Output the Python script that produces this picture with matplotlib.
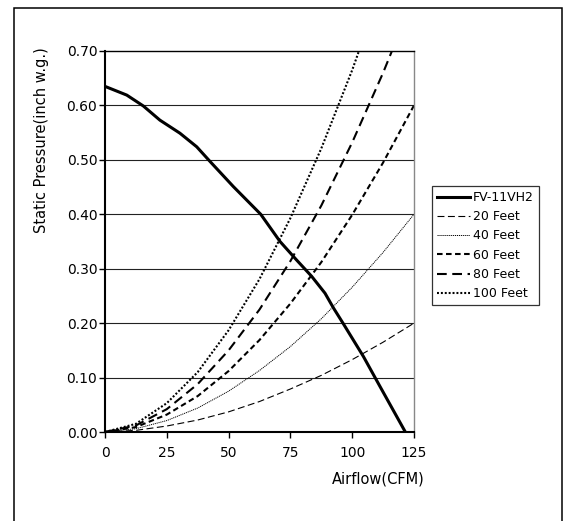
import matplotlib
matplotlib.use("Agg")
import matplotlib.pyplot as plt
from matplotlib.patches import Rectangle

plt.rcParams['font.family'] = ['DejaVu Sans']
plt.rcParams['lines.scale_dashes'] = False

# Fan performance curve
fan_x = [0, 8.8, 15.5, 22.2, 30.3, 37.1, 42.5, 51.9, 63.0, 70.8, 77.5, 83.6,
         89.0, 92.4, 96.4, 104.5, 111.2, 121.5]
fan_y = [0.635, 0.619, 0.599, 0.573, 0.549, 0.524, 0.497, 0.451, 0.400, 0.350,
         0.316, 0.286, 0.255, 0.228, 0.199, 0.139, 0.084, 0.0]

# Duct resistance curves
duct_x = [0, 12.5, 25, 37.5, 50, 62.5, 75, 87.5, 100, 112.5, 125]
feet20 = [0, 0.003, 0.011, 0.022, 0.037, 0.056, 0.079, 0.104, 0.133, 0.165, 0.20]
feet40 = [0, 0.006, 0.021, 0.044, 0.075, 0.113, 0.157, 0.208, 0.266, 0.330, 0.40]
feet60 = [0, 0.009, 0.032, 0.066, 0.112, 0.169, 0.236, 0.312, 0.399, 0.495, 0.60]
feet80 = [0, 0.012, 0.042, 0.088, 0.150, 0.225, 0.314, 0.416, 0.532, 0.660, 0.80]
feet100 = [0, 0.015, 0.053, 0.110, 0.187, 0.281, 0.393, 0.521, 0.665, 0.825, 1.0]

labels = ['FV-11VH2', '20 Feet', '40 Feet', '60 Feet', '80 Feet', '100 Feet']
x_ticks = [0, 25, 50, 75, 100, 125]
y_ticks = [0.0, 0.1, 0.2, 0.3, 0.4, 0.5, 0.6, 0.7]

W, H = 572, 521
fig = plt.figure(figsize=(W / 100, H / 100), dpi=100)
ax = fig.add_axes([105 / W, 1 - 432 / H, 309 / W, 381 / H])

# frame around the figure
fig.patches.append(Rectangle((13.5 / W, -0.05), 548 / W, 1.05 - 7.5 / H,
                             transform=fig.transFigure, fill=False,
                             edgecolor='black', linewidth=1.1))

for yv in y_ticks[1:-1]:
    ax.axhline(yv, color='#222222', linewidth=0.8, zorder=1)

ax.plot(fan_x, fan_y, color='black', linewidth=2.2, solid_joinstyle='round',
        label=labels[0], zorder=5)
ax.plot(duct_x, feet20, color='black', linewidth=0.8, dashes=(5, 2.5), label=labels[1])
ax.plot(duct_x, feet40, color='black', linewidth=0.7, dashes=(0.8, 0.6), label=labels[2])
ax.plot(duct_x, feet60, color='black', linewidth=1.5, dashes=(4, 2.5), label=labels[3])
ax.plot(duct_x, feet80, color='black', linewidth=1.5, dashes=(7, 4), label=labels[4])
ax.plot(duct_x, feet100, color='black', linewidth=1.5, dashes=(1.4, 1.4), label=labels[5])

ax.set_xlim(0, 125)
ax.set_ylim(0, 0.70)
ax.set_xticks(x_ticks)
ax.set_xticklabels([str(v) for v in x_ticks])
ax.set_yticks(y_ticks)
ax.set_yticklabels(['%.2f' % v for v in y_ticks])
ax.tick_params(axis='y', direction='out', length=4, width=1, pad=1.5, labelsize=10)
ax.tick_params(axis='x', direction='out', length=4, width=1, pad=6, labelsize=10)

ax.spines['left'].set_linewidth(1.5)
ax.spines['bottom'].set_linewidth(1.5)
ax.spines['top'].set_linewidth(1.0)
ax.spines['right'].set_linewidth(1.0)
ax.spines['right'].set_color('#888888')

fig.text(42 / W, 1 - 140 / H, 'Static Pressure(inch w.g.)', rotation=90,
         ha='center', va='center', fontsize=10.5)
fig.text(425 / W, 1 - 483 / H, 'Airflow(CFM)', ha='right', va='baseline', fontsize=10.5)

leg = fig.legend(loc='upper left', bbox_to_anchor=(432 / W, 1 - 186 / H),
                 frameon=True, fancybox=False, edgecolor='black', fontsize=9,
                 handlelength=2.6, handletextpad=0.3, labelspacing=0.5,
                 borderpad=0.4, borderaxespad=0)
leg.get_frame().set_linewidth(0.9)

fig.savefig('out.png', dpi=100)
